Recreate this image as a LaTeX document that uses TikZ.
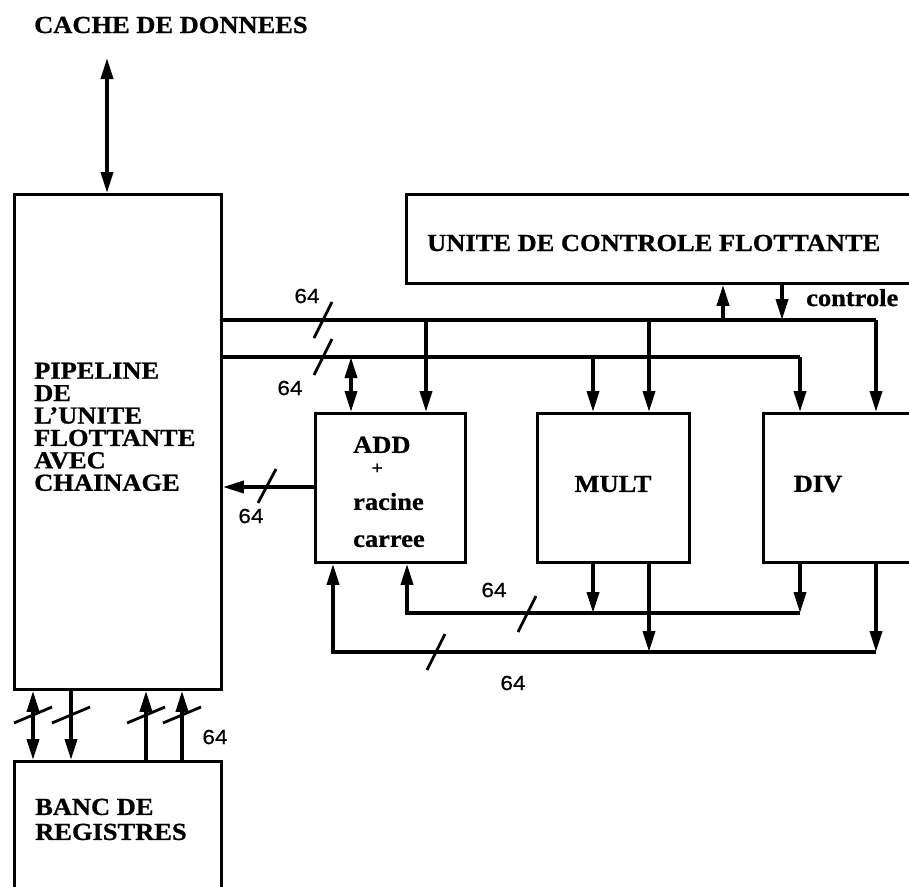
\documentclass[tikz,border=0pt]{standalone}
\usepackage{fontspec}
\usetikzlibrary{arrows.meta}
\newfontfamily\lblfont{Liberation Serif}[FakeStretch=1.08,FakeBold=0.8]
\newfontfamily\numfont{Liberation Sans}[FakeStretch=1.1,FakeBold=0.6]
\begin{document}
\begin{tikzpicture}[x=1pt,y=-1pt,
  box/.style={draw, line width=2.8pt, inner sep=0pt, anchor=north west},
  lbl/.style={font=\lblfont\bfseries\fontsize{24.5}{27}\selectfont, inner sep=0pt},
  block/.style={inner sep=0pt, align=left, anchor=north west},
  num/.style={font=\numfont\fontsize{20.5}{22}\selectfont, inner sep=0pt},
  bus/.style={line width=3.6pt},
  onearrow/.style={line width=3.6pt, -{Triangle[length=21pt,width=12pt]}},
  twoarrow/.style={line width=3.6pt, {Triangle[length=21pt,width=12pt]}-{Triangle[length=21pt,width=12pt]}},
  slashmark/.style={line width=2.8pt}
]
\useasboundingbox (0,0) rectangle (909,886);
\clip (0,0) rectangle (909,886);

% boxes
\node[box, minimum width=207pt, minimum height=495pt] (pipe) at (13,193) {};
\node[box, minimum width=560pt, minimum height=89pt] (ctrl) at (405,193) {};
\node[box, minimum width=150pt, minimum height=149pt] (add) at (314,412) {};
\node[box, minimum width=152pt, minimum height=149pt] (mult) at (536,412) {};
\node[box, minimum width=200pt, minimum height=149pt] (div) at (762,412) {};
\node[box, minimum width=207pt, minimum height=200pt] (banc) at (13,760) {};

% texts
\node[lbl, anchor=base west] (cache) at (34,33) {CACHE DE DONNEES};
\node[lbl, anchor=base west] (ctrltxt) at (427,251) {UNITE DE CONTROLE FLOTTANTE};
\node[block, font=\lblfont\bfseries\fontsize{24.5}{22.4}\selectfont] (pipetxt) at (34,362.5)
  {PIPELINE\\DE\\L’UNITE\\FLOTTANTE\\AVEC\\CHAINAGE};
\node[block, font=\lblfont\bfseries\fontsize{24.5}{25}\selectfont] (banctxt) at (35,798.5)
  {BANC DE\\REGISTRES};
\node[block, font=\lblfont\bfseries\fontsize{24.5}{21}\selectfont] (addtxt) at (353,436.5)
  {ADD\\\hspace*{18.5pt}{\fontsize{18}{18}\selectfont +}\\[15pt]racine\\[16pt]carree};
\node[lbl] (multtxt) at (613,484) {MULT};
\node[lbl] (divtxt) at (818,484) {DIV};
\node[lbl, anchor=base west] (ctl) at (806,306) {controle};

% 64 labels
\node[num] (n1) at (307,296) {64};
\node[num] (n2) at (290,388) {64};
\node[num] (n3) at (251,516) {64};
\node[num] (n4) at (494,590) {64};
\node[num] (n5) at (513,683) {64};
\node[num] (n6) at (215,737) {64};

% cache link
\coordinate (cachetop) at (107,58);
\draw[twoarrow] (cachetop) -- (107,0 |- pipe.north);

% upper and lower buses
\draw[bus] (pipe.east |- 0,320) -- (876,320);
\draw[onearrow] (876,320) -- (876,0 |- div.north);
\draw[bus] (pipe.east |- 0,357) -- (800,357);
\draw[onearrow] (800,357) -- (800,0 |- div.north);
\draw[onearrow] (426,320) -- (426,0 |- add.north);
\draw[onearrow] (649,320) -- (649,0 |- mult.north);
\draw[twoarrow] (351,357) -- (351,0 |- add.north);
\draw[onearrow] (593,357) -- (593,0 |- mult.north);
% control
\draw[onearrow] (723,320) -- (723,0 |- ctrl.south);
\draw[onearrow] (782,0 |- ctrl.south) -- (782,320);

% ADD output to pipeline
\draw[onearrow] (add.west |- 0,487) -- (pipe.east |- 0,487);

% return buses
\draw[onearrow] (593,0 |- mult.south) -- (593,613);
\draw[onearrow] (800,0 |- div.south) -- (800,613);
\draw[onearrow] (800,613) -- (407,613) -- (407,0 |- add.south);
\draw[onearrow] (649,0 |- mult.south) -- (649,652);
\draw[onearrow] (876,0 |- div.south) -- (876,652);
\draw[onearrow] (876,652) -- (333,652) -- (333,0 |- add.south);

% pipeline <-> banc
\draw[twoarrow] (33,0 |- pipe.south) -- (33,0 |- banc.north);
\draw[onearrow] (71,0 |- pipe.south) -- (71,0 |- banc.north);
\draw[onearrow] (146,0 |- banc.north) -- (146,0 |- pipe.south);
\draw[onearrow] (182,0 |- banc.north) -- (182,0 |- pipe.south);

% width slashes
\draw[slashmark] (323,320) ++(-9,18) -- ++(18,-36);
\draw[slashmark] (323,357) ++(-9,18) -- ++(18,-36);
\draw[slashmark] (267,486) ++(-9,17) -- ++(18,-34);
\draw[slashmark] (527,614) ++(-9,18) -- ++(18,-36);
\draw[slashmark] (436,652) ++(-9,18) -- ++(18,-36);
\foreach \xx in {33,71,146,182}
  \draw[slashmark] (\xx,715) ++(-19,8) -- ++(38,-16);
\end{tikzpicture}
\end{document}
